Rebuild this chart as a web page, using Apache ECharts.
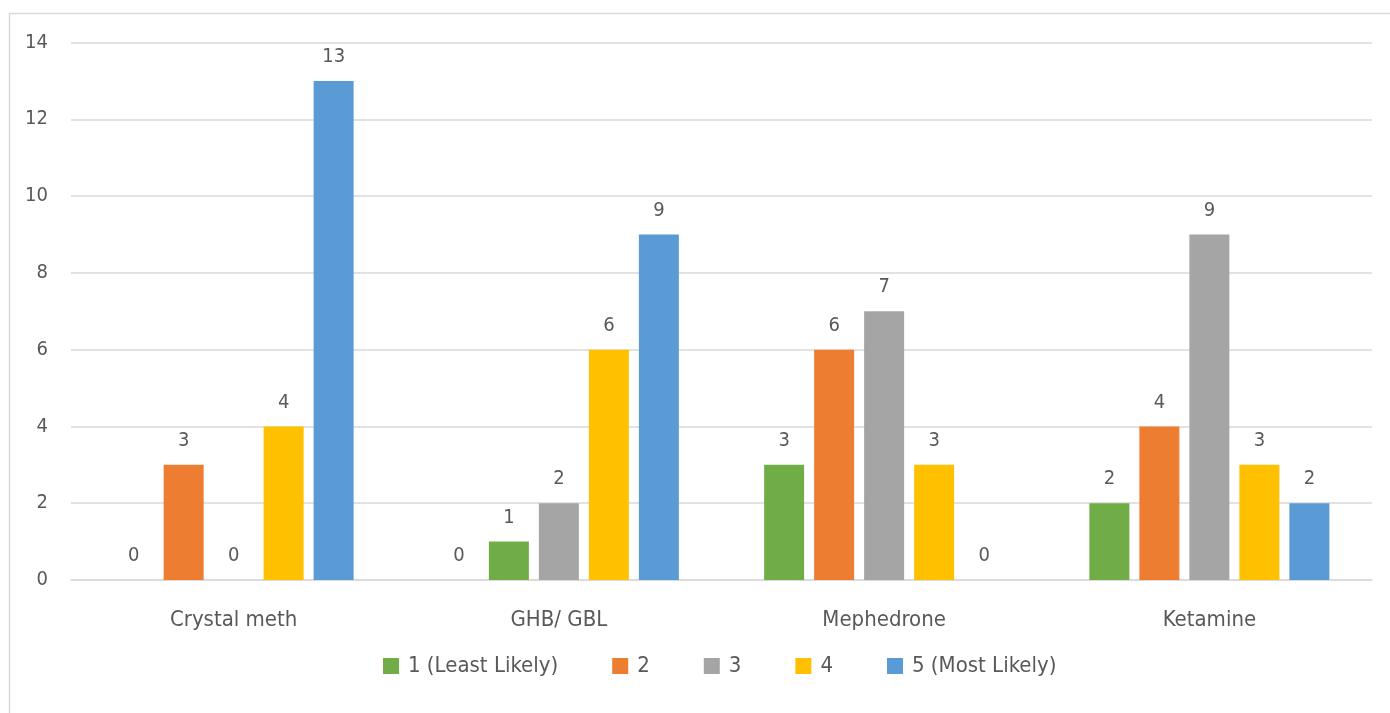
<!DOCTYPE html>
<html>
<head>
<meta charset="utf-8">
<style>
  html, body { margin: 0; padding: 0; background: #fff; }
  #chart { width: 1390px; height: 713px; }
</style>
<script src="https://cdn.jsdelivr.net/npm/echarts@6/dist/echarts.min.js"></script>
</head>
<body>
<div id="chart"></div>
<script>
// Survey counts per substance, by likelihood rating
const categories = ['Crystal meth', 'GHB/ GBL', 'Mephedrone', 'Ketamine'];
const seriesNames = ['1 (Least Likely)', '2', '3', '4', '5 (Most Likely)'];
const rating1 = [0, 0, 3, 2];
const rating2 = [3, 1, 6, 4];
const rating3 = [0, 2, 7, 9];
const rating4 = [4, 6, 3, 3];
const rating5 = [13, 9, 0, 2];
const colors = ['#70AD47', '#ED7D31', '#A5A5A5', '#FFC000', '#5B9BD5'];
const yTicks = [0, 2, 4, 6, 8, 10, 12, 14];
// per-point fill overrides: [seriesIndex, categoryIndex, colour]
const pointColors = [[1, 1, '#70AD47']];

const font = '"DejaVu Sans", sans-serif';
const stretch = 'condensed';
const textColor = '#595959';

const values = [rating1, rating2, rating3, rating4, rating5];

function seriesData(si) {
  return values[si].map((v, ci) => {
    const o = pointColors.find(p => p[0] === si && p[1] === ci);
    return o ? { value: v, itemStyle: { color: o[2] } } : v;
  });
}

const chart = echarts.init(document.getElementById('chart'), null, { renderer: 'canvas' });

chart.setOption({
  backgroundColor: '#ffffff',
  animation: false,
  color: colors,
  graphic: [{
    type: 'rect',
    shape: { x: 9.5, y: 13.5, width: 1400, height: 720 },
    style: { fill: 'none', stroke: '#d9d9d9', lineWidth: 1.5 },
    z: -1
  }],
  grid: { left: 71, right: 18, top: 42.5, bottom: 133, containLabel: false },
  legend: {
    top: 650,
    left: 380,
    padding: [5, 3],
    itemWidth: 16,
    itemHeight: 16,
    itemGap: 54,
    icon: 'rect',
    textStyle: { fontFamily: font, fontStyle: stretch, fontSize: 22, color: textColor, padding: [0, 0, 0, 4] },
    data: seriesNames
  },
  xAxis: {
    type: 'category',
    data: categories,
    axisLine: { show: true, lineStyle: { color: '#d9d9d9', width: 1.5 } },
    axisTick: { show: false },
    axisLabel: { fontFamily: font, fontStyle: stretch, fontSize: 22, color: textColor, margin: 29 }
  },
  yAxis: {
    type: 'value',
    min: yTicks[0],
    max: yTicks[yTicks.length - 1],
    interval: 2,
    axisLine: { show: false },
    axisTick: { show: false },
    splitLine: { lineStyle: { color: '#d9d9d9', width: 1.5 } },
    axisLabel: { fontFamily: font, fontStyle: stretch, fontSize: 20, color: textColor, margin: 23 }
  },
  series: seriesNames.map((name, i) => ({
    name: name,
    type: 'bar',
    data: seriesData(i),
    barWidth: 40,
    barGap: '25%',
    itemStyle: { color: colors[i] },
    label: {
      show: true,
      position: 'top',
      distance: 14,
      fontFamily: font,
      fontStyle: stretch,
      fontSize: 20,
      color: textColor
    }
  }))
});
</script>
</body>
</html>
